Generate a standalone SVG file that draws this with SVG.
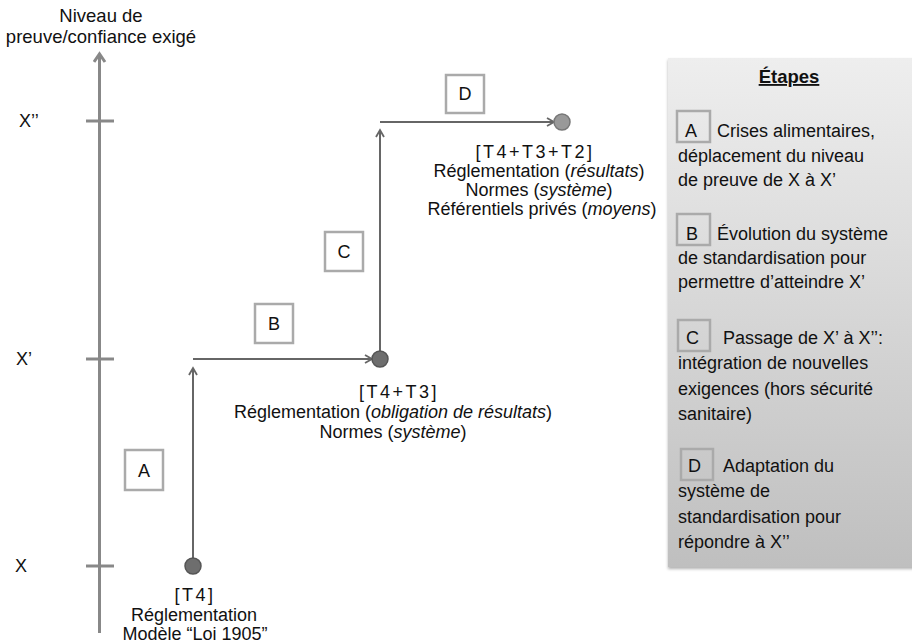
<svg xmlns="http://www.w3.org/2000/svg" width="912" height="643" viewBox="0 0 912 643">
<defs>
<style>
text{font-family:"Liberation Sans",Arial,sans-serif;fill:#111}
.t{font-size:18px;text-anchor:middle}
.br{font-size:18px;text-anchor:middle;letter-spacing:2.5px}
.p{font-size:18px}
.box{fill:#fff;stroke:#aaa;stroke-width:2.5}
.pbox{fill:none;stroke:#aaa;stroke-width:2.5}
.conn{stroke:#666;stroke-width:2;fill:none}
</style>
<linearGradient id="pg" x1="0" y1="0" x2="0" y2="1">
<stop offset="0" stop-color="#eeeeee"/>
<stop offset="1" stop-color="#bfbfbf"/>
</linearGradient>
<filter id="sh" x="-5%" y="-5%" width="110%" height="110%">
<feDropShadow dx="0" dy="2" stdDeviation="1.5" flood-color="#000" flood-opacity="0.3"/>
</filter>
<marker id="ah" markerWidth="10" markerHeight="10" refX="8" refY="5" orient="auto" markerUnits="userSpaceOnUse">
<path d="M1,1 L8,5 L1,9" fill="none" stroke="#666" stroke-width="1.8"/>
</marker>
<marker id="axh" markerWidth="14" markerHeight="14" refX="10" refY="7" orient="auto" markerUnits="userSpaceOnUse">
<path d="M2,1.5 L10,7 L2,12.5" fill="none" stroke="#888" stroke-width="3"/>
</marker>
</defs>
<rect width="912" height="643" fill="#fff"/>

<g id="axis">
<text x="101" y="22" style="font-size:18.5px;text-anchor:middle">Niveau de</text>
<text x="101" y="43" style="font-size:18.5px;text-anchor:middle">preuve/confiance exigé</text>
<line x1="99.5" y1="633" x2="99.5" y2="54" stroke="#888" stroke-width="3" marker-end="url(#axh)"/>
<line x1="86" y1="121" x2="114" y2="121" stroke="#888" stroke-width="3"/>
<line x1="86" y1="359" x2="114" y2="359" stroke="#888" stroke-width="3"/>
<line x1="86" y1="566" x2="114" y2="566" stroke="#888" stroke-width="3"/>
<text x="19" y="127" style="font-size:18px">X’’</text>
<text x="16" y="365" style="font-size:18px">X’</text>
<text x="15" y="572" style="font-size:18px">X</text>
</g>

<g id="connectors">
<line class="conn" x1="193" y1="558" x2="193" y2="368" marker-end="url(#ah)"/>
<line class="conn" x1="193" y1="359" x2="372" y2="359" marker-end="url(#ah)"/>
<line class="conn" x1="380" y1="351" x2="380" y2="130" marker-end="url(#ah)"/>
<line class="conn" x1="380" y1="122" x2="554" y2="122" marker-end="url(#ah)"/>
</g>

<g id="node-T4">
<circle cx="193" cy="566" r="8" fill="#6e6e6e" stroke="#555" stroke-width="1.5"/>
<text x="195" y="601" class="br">[T4]</text>
<text x="194" y="621" class="t">Réglementation</text>
<text x="195" y="640" class="t">Modèle “Loi 1905”</text>
</g>

<g id="node-T4T3">
<circle cx="380" cy="359" r="8" fill="#6e6e6e" stroke="#555" stroke-width="1.5"/>
<text x="399" y="398" class="br">[T4+T3]</text>
<text x="393" y="418" class="t">Réglementation (<tspan font-style="italic">obligation de résultats</tspan>)</text>
<text x="393" y="438" class="t">Normes (<tspan font-style="italic">système</tspan>)</text>
</g>

<g id="node-T4T3T2">
<circle cx="562" cy="122" r="8" fill="#999" stroke="#777" stroke-width="1.5"/>
<text x="535" y="158" class="br">[T4+T3+T2]</text>
<text x="539" y="177" class="t">Réglementation (<tspan font-style="italic">résultats</tspan>)</text>
<text x="539" y="196" class="t">Normes (<tspan font-style="italic">système</tspan>)</text>
<text x="542" y="215" class="t">Référentiels privés (<tspan font-style="italic">moyens</tspan>)</text>
</g>

<g id="label-A">
<rect class="box" x="125" y="450" width="38" height="40"/>
<text x="144" y="477" class="t">A</text>
</g>
<g id="label-B">
<rect class="box" x="255" y="304" width="38" height="39"/>
<text x="274" y="330" class="t">B</text>
</g>
<g id="label-C">
<rect class="box" x="325" y="232" width="38" height="39"/>
<text x="344" y="258" class="t">C</text>
</g>
<g id="label-D">
<rect class="box" x="446" y="75" width="38" height="38"/>
<text x="465" y="100" class="t">D</text>
</g>

<g id="legend">
<rect x="668" y="58" width="250" height="509" fill="url(#pg)" filter="url(#sh)"/>
<text x="789" y="83" style="font-size:18.5px;font-weight:bold;text-anchor:middle;text-decoration:underline">Étapes</text>
<rect class="pbox" x="677" y="111" width="33" height="31"/>
<text x="685" y="137" class="p">A</text>
<text x="717" y="137" class="p">Crises alimentaires,</text>
<text x="678" y="162" class="p">déplacement du niveau</text>
<text x="678" y="186" class="p">de preuve de X à X’</text>

<rect class="pbox" x="677" y="214" width="33" height="31"/>
<text x="686" y="240" class="p">B</text>
<text x="717" y="240" class="p">Évolution du système</text>
<text x="678" y="264" class="p">de standardisation pour</text>
<text x="678" y="288" class="p">permettre d’atteindre X’</text>

<rect class="pbox" x="678" y="320" width="32" height="31"/>
<text x="686" y="344" class="p">C</text>
<text x="723" y="344" class="p">Passage de X’ à X’’:</text>
<text x="678" y="369" class="p">intégration de nouvelles</text>
<text x="678" y="395" class="p">exigences (hors sécurité</text>
<text x="678" y="420" class="p">sanitaire)</text>

<rect class="pbox" x="681" y="449" width="32" height="31"/>
<text x="688" y="472" class="p">D</text>
<text x="723" y="472" class="p">Adaptation du</text>
<text x="678" y="497" class="p">système de</text>
<text x="678" y="523" class="p">standardisation pour</text>
<text x="678" y="548" class="p">répondre à X’’</text>
</g>
</svg>
